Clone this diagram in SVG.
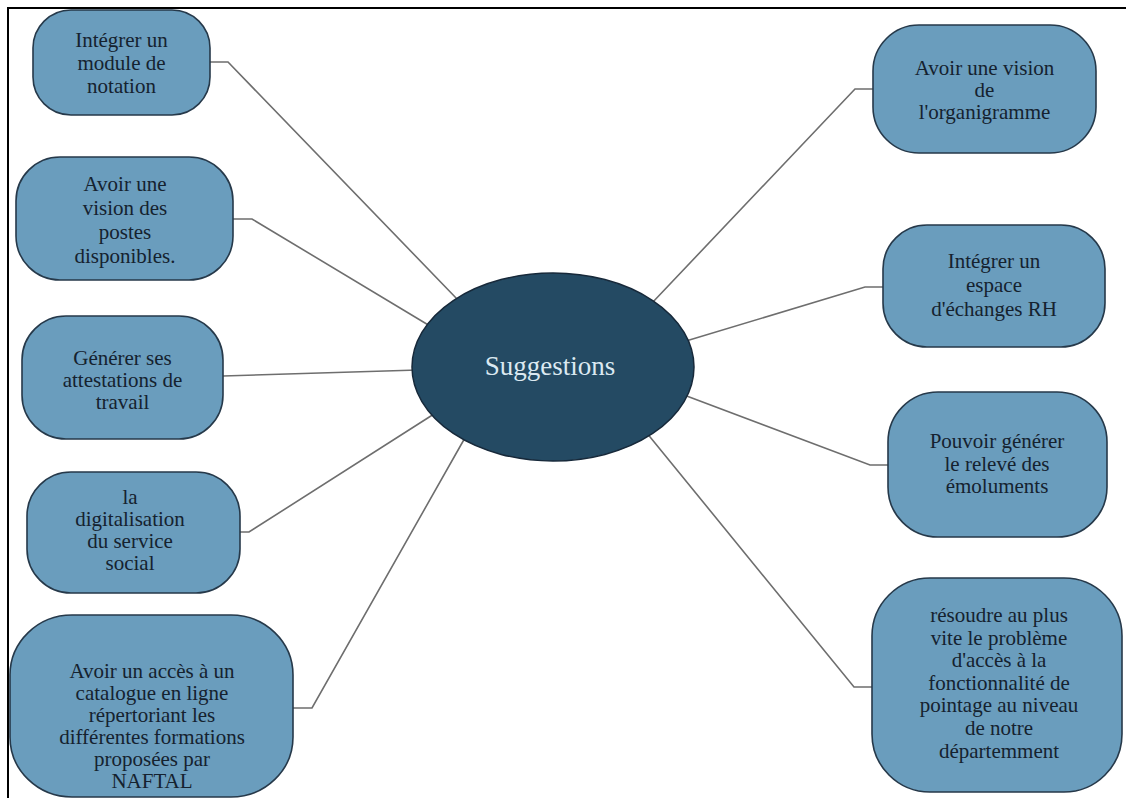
<svg xmlns="http://www.w3.org/2000/svg" width="1126" height="798" viewBox="0 0 1126 798">
<style>
.node{fill:#6a9dbd;stroke:#26394a;stroke-width:1.6}
.t{font-family:"Liberation Serif","Times New Roman",serif;font-size:21px;fill:#15222f;text-anchor:middle}
.conn{fill:none;stroke:#6e6e6e;stroke-width:1.6}
.frame{stroke:#000;stroke-width:2;fill:none}
</style>
<rect x="0" y="0" width="1126" height="798" fill="#fff"/>
<path class="frame" d="M8,798 V8 H1126"/>
<g id="connectors">
<path class="conn" d="M210,62 H228 L458,300"/>
<path class="conn" d="M233,219 H252 L430,326"/>
<path class="conn" d="M223,376 L418,370"/>
<path class="conn" d="M240,532 H249 L434,414"/>
<path class="conn" d="M293,708 H312 L466,436"/>
<path class="conn" d="M873,89 H855 L652,303"/>
<path class="conn" d="M883,287 H865 L686,341"/>
<path class="conn" d="M888,465 H870 L684,395"/>
<path class="conn" d="M872,687 H854 L646,432"/>
</g>
<g id="center">
<ellipse cx="553" cy="367" rx="141" ry="94" fill="#244a63" stroke="#17293a" stroke-width="1.5"/>
<text x="550" y="375" style="font-family:'Liberation Serif','Times New Roman',serif;font-size:27px;fill:#dbe9f1;text-anchor:middle">Suggestions</text>
</g>
<g id="n1">
<rect class="node" x="33" y="10" width="177" height="105" rx="38" ry="38"/>
<text class="t"><tspan x="121.5" y="47">Intégrer un</tspan><tspan x="121.5" y="70">module de</tspan><tspan x="121.5" y="93">notation</tspan></text>
</g>
<g id="n2">
<rect class="node" x="16" y="157" width="217" height="123" rx="44" ry="44"/>
<text class="t"><tspan x="125" y="191">Avoir une</tspan><tspan x="125" y="215">vision des</tspan><tspan x="125" y="239">postes</tspan><tspan x="125" y="263">disponibles.</tspan></text>
</g>
<g id="n3">
<rect class="node" x="22" y="316" width="201" height="123" rx="44" ry="44"/>
<text class="t"><tspan x="122.5" y="365">Générer ses</tspan><tspan x="122.5" y="387">attestations de</tspan><tspan x="122.5" y="409">travail</tspan></text>
</g>
<g id="n4">
<rect class="node" x="27" y="472" width="213" height="121" rx="44" ry="44"/>
<text class="t"><tspan x="130" y="504">la</tspan><tspan x="130" y="526">digitalisation</tspan><tspan x="130" y="548">du service</tspan><tspan x="130" y="570">social</tspan></text>
</g>
<g id="n5">
<rect class="node" x="10" y="615" width="283" height="182" rx="62" ry="60"/>
<text class="t"><tspan x="152" y="678">Avoir un accès à un</tspan><tspan x="152" y="700">catalogue en ligne</tspan><tspan x="152" y="722">répertoriant les</tspan><tspan x="152" y="744">différentes formations</tspan><tspan x="152" y="766">proposées par</tspan><tspan x="152" y="788">NAFTAL</tspan></text>
</g>
<g id="n6">
<rect class="node" x="873" y="25" width="223" height="128" rx="46" ry="46"/>
<text class="t"><tspan x="984.5" y="75">Avoir une vision</tspan><tspan x="984.5" y="97">de</tspan><tspan x="984.5" y="119">l'organigramme</tspan></text>
</g>
<g id="n7">
<rect class="node" x="883" y="225" width="222" height="122" rx="44" ry="44"/>
<text class="t"><tspan x="994" y="268">Intégrer un</tspan><tspan x="994" y="292">espace</tspan><tspan x="994" y="316">d'échanges RH</tspan></text>
</g>
<g id="n8">
<rect class="node" x="888" y="392" width="219" height="145" rx="50" ry="50"/>
<text class="t"><tspan x="997" y="448">Pouvoir générer</tspan><tspan x="997" y="470.5">le relevé des</tspan><tspan x="997" y="493">émoluments</tspan></text>
</g>
<g id="n9">
<rect class="node" x="872" y="578" width="250" height="214" rx="58" ry="58"/>
<text class="t"><tspan x="999" y="622">résoudre au plus</tspan><tspan x="999" y="645">vite le problème</tspan><tspan x="999" y="667">d'accès à la</tspan><tspan x="999" y="690">fonctionnalité de</tspan><tspan x="999" y="712">pointage au niveau</tspan><tspan x="999" y="735">de notre</tspan><tspan x="999" y="758">départemment</tspan></text>
</g>
</svg>
